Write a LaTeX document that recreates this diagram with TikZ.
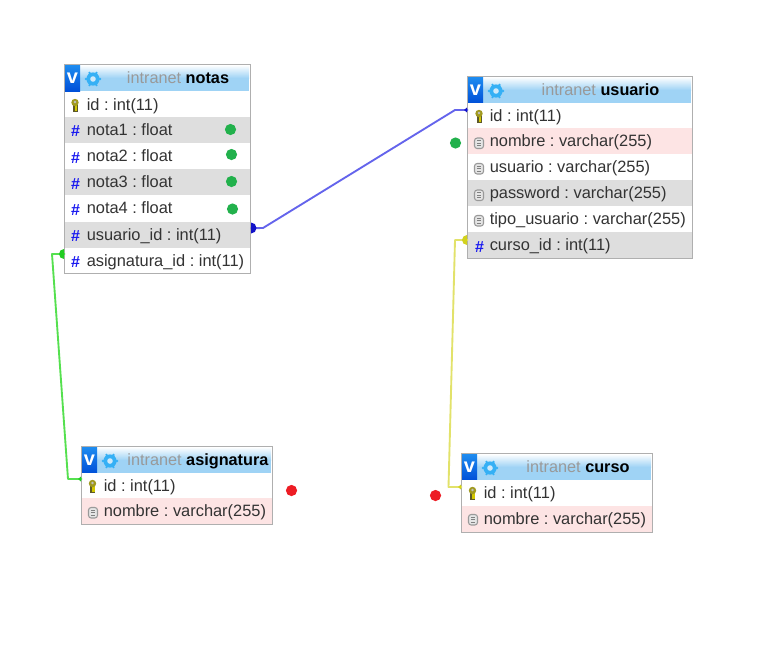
\documentclass[tikz,border=0pt]{standalone}
\usepackage{fontspec}
\setmainfont{Liberation Sans}
\usetikzlibrary{shadings}
\definecolor{rowtxt}{HTML}{333333}
\definecolor{rowgray}{HTML}{DEDEDE}
\definecolor{rowpink}{HTML}{FDE4E4}
\definecolor{rowwhite}{HTML}{FFFFFF}
\definecolor{tblborder}{HTML}{AFAFAF}
\definecolor{hashblue}{HTML}{1A1AF0}
\definecolor{dotgreen}{HTML}{22B14C}
\definecolor{dotred}{HTML}{ED1C24}
\definecolor{lnblue}{HTML}{6464EC}
\definecolor{lngreen}{HTML}{55E04F}
\definecolor{lnyellow}{HTML}{E2E26A}
\definecolor{blobblue}{HTML}{1212C8}
\definecolor{blobgreen}{HTML}{22CC22}
\definecolor{blobyellow}{HTML}{D2D21E}
\definecolor{hdrbot}{HTML}{9FD3F5}
\definecolor{vtop}{HTML}{1E8CF0}
\definecolor{vbot}{HTML}{0050D8}
\definecolor{gearblue}{HTML}{35B0F5}
\tikzset{
  x=0.75pt,y=-0.75pt,
  tblframe/.style={fill=white,rectangle,inner sep=0pt,anchor=north west},
  rowbox/.style={rectangle,inner sep=0pt,anchor=north west,minimum height=19.5pt},
  rowtext/.style={anchor=base west,inner sep=0pt,text=rowtxt,font=\fontsize{12.3}{14}\selectfont\frenchspacing},
  titletext/.style={anchor=base,inner sep=0pt,font=\fontsize{12.2}{14}\selectfont},
  hashmark/.style={anchor=center,inner sep=0pt,text=hashblue,font=\fontsize{12}{12}\bfseries\selectfont},
  dot/.style={circle,inner sep=0pt,minimum size=8.4pt},
  conn/.style={line width=1.4pt,line join=round},
}
% #1 name, #2 x, #3 y, #4 w, #5 h
\newcommand{\tblbox}[5]{%
  \node[tblframe,minimum width=#4*0.75pt,minimum height=#5*0.75pt] (#1) at (#2,#3) {};
  \shade[top color=white,bottom color=hdrbot] (#2+1,#3+1) rectangle (#2+#4-1,#3+14);
  \fill[hdrbot] (#2+1,#3+14) rectangle (#2+#4-1,#3+27);
  \shade[top color=vtop,bottom color=vbot] (#2+1,#3+1) rectangle (#2+16,#3+27);
  \node[anchor=center,inner sep=0pt,text=white,font=\fontsize{15}{15}\bfseries\selectfont] (#1v) at (#2+8.5,#3+14.5) {v};
  \fill[gearblue] (#2+29,#3+15) circle (6.6);
  \fill[hdrbot!50!white] (#2+29,#3+15) circle (2.8);
  \foreach \a in {0,60,...,300} \fill[gearblue] (#2+29,#3+15) ++(\a:7) circle (1.3);
}
\newcommand{\tbloutline}[1]{\draw[tblborder,line width=0.75pt] (#1.north west) rectangle (#1.south east);}
% #1 name, #2 x, #3 ytop, #4 w, #5 fill, #6 text
\newcommand{\rowline}[6]{%
  \node[rowbox,fill=#5,minimum width=#4*0.75pt] (#1) at (#2,#3) {};
  \node[rowtext] (#1t) at (#2+21.5,#3+18.5) {#6};
}
\newcommand{\keyicon}[3]{% name,x,y center
  \coordinate (#1) at (#2,#3);
  \fill[black!45!olive] (#2-2.5,#3-1) rectangle (#2+2.5,#3+6.5);
  \fill[yellow!60!olive] (#2-.5,#3-1) rectangle (#2+2,#3+5.5);
  \fill[yellow!45!olive!80!black] (#2,#3-2.5) circle (3.7);
  \fill[white!75!black] (#2,#3-3) circle (1.4);
}
\newcommand{\docicon}[3]{%
  \coordinate (#1) at (#2,#3);
  \filldraw[draw=black!40,fill=black!10,line width=0.8pt,rounded corners=2pt] (#2-4.5,#3-5) rectangle (#2+4.5,#3+5.5);
  \foreach \d in {-2.2,0.2,2.6} \draw[black!50,line width=0.5pt] (#2-2.2,#3+\d) -- (#2+2.2,#3+\d);
}
\newcommand{\hashicon}[3]{\node[hashmark] (#1) at (#2,#3) {\#};}
\begin{document}
\begin{tikzpicture}
\useasboundingbox (0,0) rectangle (773,661);
\fill[white] (0,0) rectangle (773,661);

% ---------- notas
\tblbox{notas}{64}{64}{186}{209}
\node[titletext] (notastitle) at (178,83.5) {\textcolor{black!40}{intranet} \textbf{notas}};
\rowline{nid}{65}{92}{185}{rowwhite}{id : int(11)}
\rowline{nn1}{65}{117}{185}{rowgray}{nota1 : float}
\rowline{nn2}{65}{143}{185}{rowwhite}{nota2 : float}
\rowline{nn3}{65}{169}{185}{rowgray}{nota3 : float}
\rowline{nn4}{65}{195}{185}{rowwhite}{nota4 : float}
\rowline{nu}{65}{222}{185}{rowgray}{usuario\_id : int(11)}
\rowline{na}{65}{248}{185}{rowwhite}{asignatura\_id : int(11)}
\keyicon{k1}{75}{105}
\hashicon{h1}{75.5}{131}
\hashicon{h2}{75.5}{158}
\hashicon{h3}{75.5}{184}
\hashicon{h4}{75.5}{210}
\hashicon{h5}{75.5}{236}
\hashicon{h6}{75.5}{262}
\tbloutline{notas}

% ---------- usuario
\tblbox{usuario}{467}{76}{225}{182}
\node[titletext] (usuariotitle) at (600.5,95) {\textcolor{black!40}{intranet} \textbf{usuario}};
\rowline{uid}{468}{103}{224}{rowwhite}{id : int(11)}
\rowline{unom}{468}{128}{224}{rowpink}{nombre : varchar(255)}
\rowline{uusu}{468}{154}{224}{rowwhite}{usuario : varchar(255)}
\rowline{upas}{468}{180}{224}{rowgray}{password : varchar(255)}
\rowline{utip}{468}{206}{224}{rowwhite}{tipo\_usuario : varchar(255)}
\rowline{ucur}{468}{232}{224}{rowgray}{curso\_id : int(11)}
\keyicon{k2}{479}{116}
\docicon{d1}{479}{143}
\docicon{d2}{479}{168.5}
\docicon{d3}{479}{195}
\docicon{d4}{479}{220.5}
\hashicon{h7}{479.5}{247}
\tbloutline{usuario}

% ---------- asignatura
\tblbox{asignatura}{81}{446}{191}{78}
\node[titletext] (asigtitle) at (198,465) {\textcolor{black!40}{intranet} \textbf{asignatura}};
\rowline{aid}{82}{473}{190}{rowwhite}{id : int(11)}
\rowline{anom}{82}{498}{190}{rowpink}{nombre : varchar(255)}
\keyicon{k3}{92.5}{486}
\docicon{d5}{93}{512.5}
\tbloutline{asignatura}

% ---------- curso
\tblbox{curso}{461}{453}{191}{79}
\node[titletext] (cursotitle) at (578,472) {\textcolor{black!40}{intranet} \textbf{curso}};
\rowline{cid}{462}{480}{190}{rowwhite}{id : int(11)}
\rowline{cnom}{462}{505.5}{190}{rowpink}{nombre : varchar(255)}
\keyicon{k4}{472.5}{493}
\docicon{d6}{473}{519.5}
\tbloutline{curso}

% ---------- connector ends
\coordinate (bl1) at (263,228);
\coordinate (bl2) at (455,110);
\coordinate (gr1) at (52,254);
\coordinate (gr2) at (68,479);
\coordinate (ye1) at (455,240);
\coordinate (ye2) at (448.5,487);

\draw[conn,lnblue] (nu.east) ++(0,-7) -- (bl1) -- (bl2) -- (uid.west |- bl2);
\draw[conn,lngreen] (na.west |- gr1) -- (gr1) -- (gr2) -- (aid.west |- gr2);
\draw[conn,lnyellow] (ucur.west |- ye1) -- (ye1) -- (ye2) -- (cid.west |- ye2);

% blobs at the foreign-key ends
\fill[blobblue] (251,222.5) arc (-90:90:5.5) -- cycle;
\fill[blobgreen] (64,249) arc (-90:-270:5) -- cycle;
\fill[blobyellow] (467,235) arc (-90:-270:5) -- cycle;
\fill[blobblue] (467,107.5) -- (464,110) -- (467,112.5) -- cycle;
\fill[blobgreen] (81,476.5) -- (78,479) -- (81,481.5) -- cycle;
\fill[blobyellow] (461,484.5) -- (458,487) -- (461,489.5) -- cycle;

% ---------- marker dots
\node[dot,fill=dotgreen] (g1) at (230.5,129.5) {};
\node[dot,fill=dotgreen] (g2) at (231.5,154.5) {};
\node[dot,fill=dotgreen] (g3) at (231.5,181.5) {};
\node[dot,fill=dotgreen] (g4) at (232.5,209) {};
\node[dot,fill=dotgreen] (g5) at (455.5,143) {};
\node[dot,fill=dotred] (r1) at (291.5,490.5) {};
\node[dot,fill=dotred] (r2) at (435.5,495.5) {};
\end{tikzpicture}
\end{document}
